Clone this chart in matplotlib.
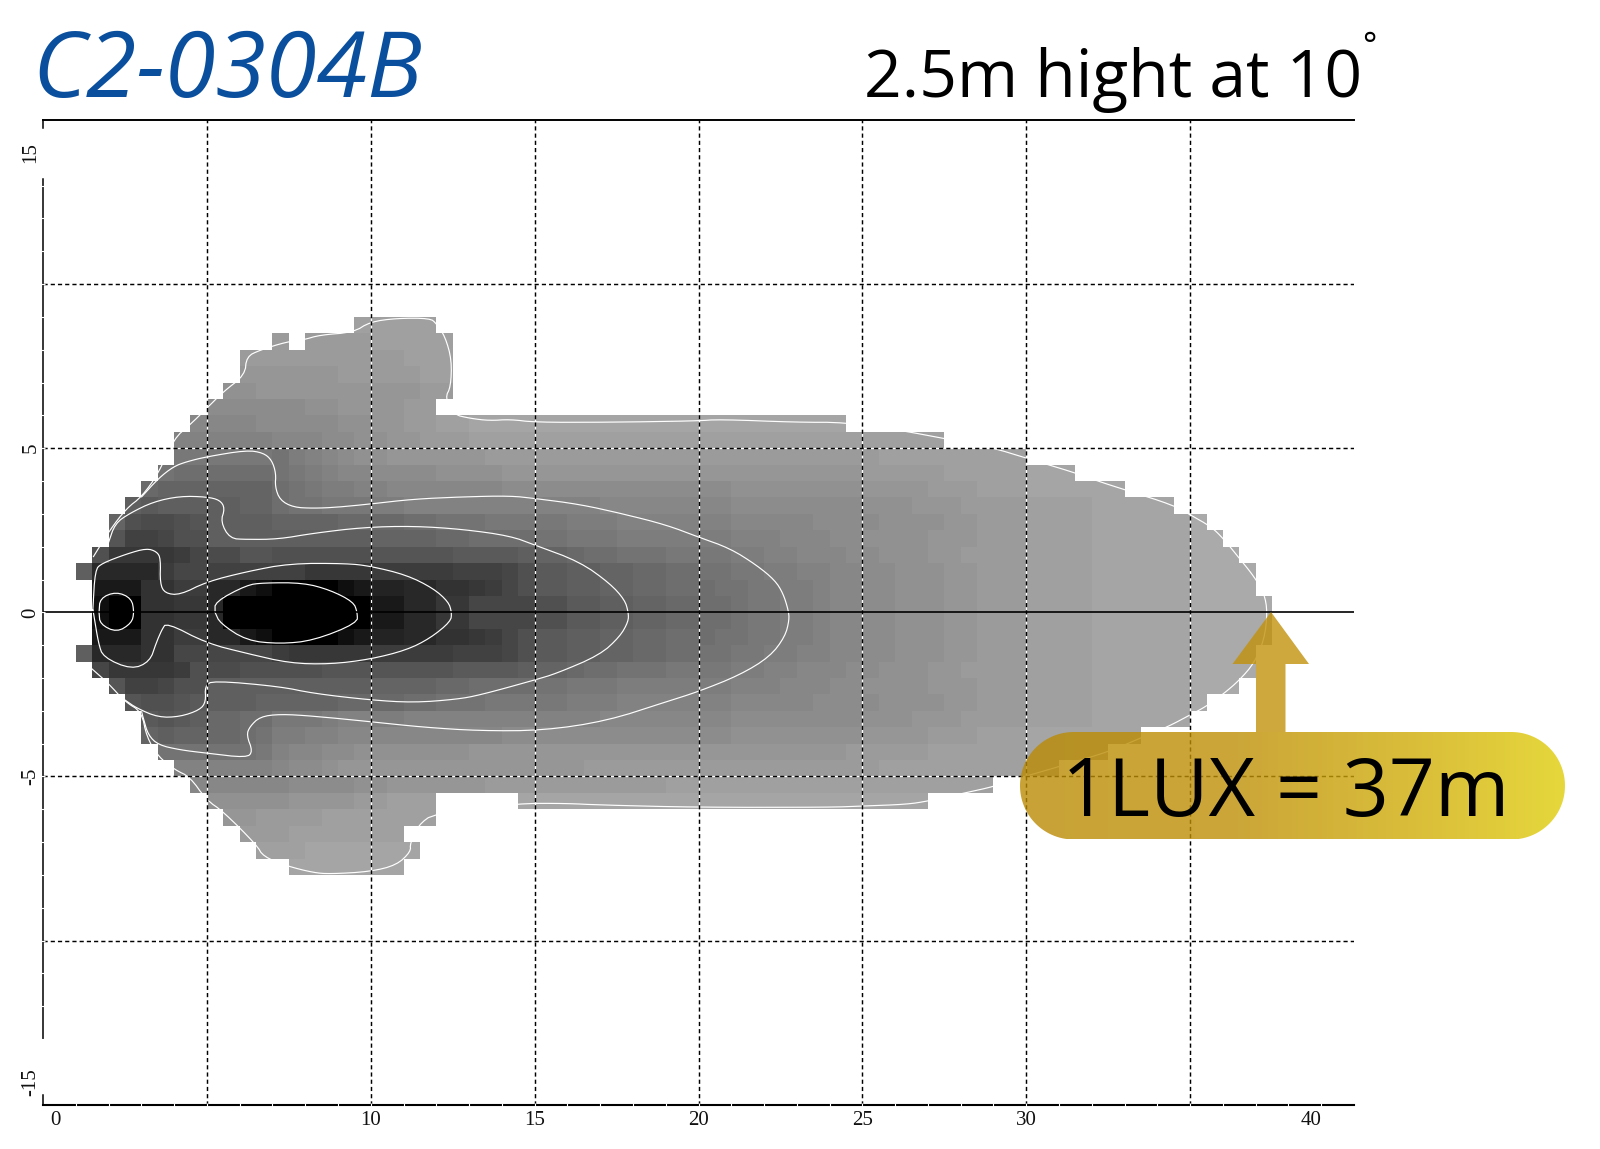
import numpy as np
import matplotlib
matplotlib.use("Agg")
import matplotlib.pyplot as plt
from matplotlib.patches import Polygon
from matplotlib.colors import LinearSegmentedColormap

plt.rcParams['lines.scale_dashes'] = False

# Grey level of every 0.5 m x 0.5 m cell, row by row from y = 9 down to y = -8.
# Columns start at x = 1; spaces only separate the 5 m blocks; '.' = below 1 lux.
GREY_CODES = "0123456789abcdefghijklmnopqrstuvwxyz"
grey_rows = [
    "........ .........w wwww",
    "........ ....v.vvvv wwwww",
    "........ ..vvvvvvvv vvwww",
    "........ ..uuuuuuvv vvvww",
    "........ .ttuuuuuuu uuuvv",
    "........ ssssssttuu uuvv",
    ".......r rrrssssstt uuvvwwxxxx xxxxxxxxxx xxxxxxxxx",
    "......qq qqqqrrrsst tuuvvvwwww wwwwwwwwww wwwwwwwwww wwwww",
    "......oo oooonpqrst tuuuuuuvvv vvvvvvvvvv vvvvvvvvvv vwwwwwwwww",
    ".....nmm mmmmnopqrr ssssttttuu uuuuuuuuuu uuuuuuuuuu vvvvvwwwww xxx",
    "....lkkk kkkkmnoppq qrrrrrrrss ssssssssss sstttttttt uuuuvvvwww xxxxxx",
    "...jijjj jjkkmnnooo ppqqqqqqqq qqqqrrrrrr rrssssssss tttuuuvvvv wwwwxxxxx",
    "..kgffgh jjjjkkkkll llmmnnnooo oopppqqqqq qqrrrrrsss sttttuuvvv wwwwxxxxxx y",
    "..hddegg jjjjjjjjjj kkkkllmmmm nnoooppppp ppqqqrrrss ttttuuuvvv wwwwxxxxxx yy",
    ".gbbbbce ffhhgggggg hhhhhiiiij kklmmnnnoo ooppqqrrrs stttuuvvvv wwwwxxxxxx yyy",
    "j8888cee ddddddbbbb cccccdddeg iijjkkllmm nnooppqqrr sstttuuvvv wwwwxxxxxx yyyy",
    ".555aacc 8853000035 7788aabceg iijjkkllmm mnnooppqrr sstttuuvvv wwwwxxxxxx yyyy",
    ".300aabb 8000000000 5588bbeeee ggiijjkkll mmnooppqrr sstttuuvvv wwwwxxxxxx yyyyy",
    ".300aabb 8000000000 5588bbeeee ggiijjkkll mmnooppqrr sstttuuvvv wwwwxxxxxx yyyyy",
    ".555aacc 8853000035 7788aabceg iijjkkllmm mnnooppqrr sstttuuvvv wwwwxxxxxx yyyyy",
    "j888aaee eeeecbbbbb cccccdddeg iijjkkllmm nnooppqqrr sstttuuvvv wwwwxxxxxx yyyy",
    ".ebbbbcg ffggggghhh hhhhhiiiij kklmmnnnoo ooppqqrrrs stttuuvvvv wwwwxxxxxx yyyy",
    "..hddegg jjjjjjjjjj kkkkllmmmm nnoooppppp ppqqqrrrss ttttuuuvvv wwwwxxxxxx yyy",
    "...hgghi jjjkkkkkll llmmnnnooo oopppqqqqq qqrrrrrsss sttttuuvvv wwwwxxxxxx y",
    "....ihij llmmooopqq ppqqqqqqqq qqqqrrrrrr rrssssssss tttuuuvvvv wwwwxxxxxx",
    "....kjkk llmnppqqrr rrrrrrrrss ssssssssss sstttttttt uuuuvvvwww xxxxxxx",
    ".....nnn nnnoqrrsst ttttttuuuu uuuuuuuuuu uuuuuuuuuv vvvvwwwwww xxxxx",
    "......qq qqqqrsstuu uuuuuuuuuu uuuvvvvvvv vvvvvvvvvv vwwwwwwwww xx",
    ".......r rrrrrsssst tuuuuuuvvv vvvvvvvvww wwwwwwwwww wwwwwwww",
    "........ tttttuuuuv vwww.....x xxxxxxxxxx xxxxxxxxxx xxxx",
    "........ .uuvvvvwww wwww",
    "........ ..vvvwwwww ww",
    "........ ...wwwxxxx xxx",
    "........ .....xxxxx xx",
]

# White iso-lux lines (metres)
outer_x = [1.54, 2.04, 2.55, 3.01, 3.52, 4.00, 4.48, 4.99, 5.50, 6.16, 6.21, 6.62, 7.43, 7.94, 8.45, 9.47, 9.98,
           10.79, 11.81, 12.00, 12.27, 12.47, 12.44, 12.27, 12.52, 13.03, 13.63, 14.25, 15.01, 17.20, 19.94, 20.65,
           22.99, 24.47, 26.14, 27.47, 28.92, 30.03, 31.40, 32.15, 33.02, 34.48, 35.02, 35.64, 36.01, 36.51, 36.95,
           37.26, 37.36, 37.26, 36.95, 36.51, 36.01, 35.48, 34.99, 34.33, 33.46, 32.53, 31.00, 29.91, 29.00, 28.17,
           27.00, 26.35, 25.02, 24.00, 19.94, 17.00, 15.97, 14.48, 11.94, 11.45, 11.20, 11.22, 10.79, 9.98, 8.76,
           8.25, 7.45, 6.72, 6.52, 5.50, 4.99, 4.48, 4.03, 3.52, 3.16, 3.01, 2.50, 1.99, 1.48]
outer_y = [1.70, 2.51, 3.17, 3.52, 4.23, 5.30, 5.71, 6.21, 6.72, 7.23, 7.79, 7.99, 8.24, 8.30, 8.45, 8.53, 8.85,
           8.96, 8.96, 8.80, 8.40, 7.69, 6.87, 6.54, 6.03, 5.91, 5.84, 5.88, 5.79, 5.79, 5.83, 5.88,
           5.79, 5.79, 5.55, 5.30, 5.03, 4.69, 4.28, 4.01, 3.73, 3.27, 2.96, 2.61, 2.25, 1.64, 1.09,
           0.58, 0.00, -0.84, -1.55, -2.06, -2.49, -2.87, -3.13, -3.48, -3.84, -4.24, -4.70, -5.01, -5.31, -5.49,
           -5.75, -5.85, -5.90, -5.94, -5.94, -5.87, -5.82, -5.82, -6.12, -6.48, -7.04, -7.29, -7.70, -7.90, -7.97,
           -7.93, -7.73, -7.44, -7.09, -6.07, -5.72, -5.01, -4.80, -4.40, -3.79, -3.03, -2.72, -2.16, -1.71]

band_b_x = [3.01, 3.52, 3.98, 4.38, 4.99, 6.21, 6.72, 6.98, 7.11, 7.08, 7.23, 7.64, 8.25, 8.96, 9.98, 11.30, 12.82,
            14.25, 15.01, 16.38, 17.70, 19.03, 19.98, 20.96, 21.77, 22.33, 22.58, 22.74, 22.77, 22.64, 22.18, 21.26,
            19.98, 19.03, 17.20, 15.26, 13.33, 11.60, 9.98, 8.25, 7.23, 6.62, 6.31, 6.21, 6.40, 6.21, 4.99, 4.18,
            3.52, 3.21, 3.06, 3.01]
band_b_y = [3.52, 4.08, 4.44, 4.59, 4.74, 4.94, 4.86, 4.64, 4.23, 3.83, 3.42, 3.20, 3.17, 3.20, 3.30, 3.45, 3.52,
            3.55, 3.47, 3.29, 3.00, 2.66, 2.30, 1.95, 1.44, 0.98, 0.58, 0.07, -0.23, -0.74, -1.35, -1.91,
            -2.42, -2.72, -3.31, -3.60, -3.61, -3.50, -3.33, -3.16, -3.10, -3.18, -3.48, -3.74, -4.24, -4.43, -4.29, -4.19,
            -4.04, -3.74, -3.23, -3.03]

band_c_x = [1.99, 2.20, 2.65, 3.37, 4.18, 4.99, 5.40, 5.55, 5.42, 5.70, 6.21, 7.18, 8.25, 9.77, 11.30, 12.82, 14.25,
            15.01, 16.38, 17.30, 17.75, 17.86, 17.86, 17.60, 16.99, 15.67, 15.01, 13.33, 12.62, 11.30, 9.98, 8.25,
            7.23, 5.20, 4.94, 4.97, 4.79, 4.18, 3.52, 2.86, 2.50]
band_c_y = [2.10, 2.71, 3.02, 3.37, 3.54, 3.52, 3.42, 3.17, 2.76, 2.25, 2.22, 2.23, 2.41, 2.59, 2.63, 2.53, 2.33,
            2.05, 1.54, 0.88, 0.38, 0.00, -0.28, -0.74, -1.30, -1.86, -2.06, -2.52, -2.65, -2.75, -2.67, -2.47,
            -2.26, -2.08, -2.24, -2.72, -2.97, -3.18, -3.20, -2.92, -2.67]

band_d_x = [1.52, 1.59, 1.79, 2.55, 3.16, 3.47, 3.59, 3.57, 3.72, 4.18, 4.99, 6.21, 7.53, 9.26, 9.98, 11.09, 11.91,
            12.37, 12.47, 12.44, 11.81, 11.09, 9.98, 8.76, 7.53, 6.21, 4.99, 3.77, 3.62, 3.45, 3.26, 2.70, 1.84, 1.69,
            1.54, 1.52]
band_d_y = [0.07, 1.29, 1.49, 1.78, 1.95, 1.85, 1.64, 0.88, 0.58, 0.53, 0.93, 1.24, 1.49, 1.49, 1.41, 1.14, 0.73,
            0.32, 0.00, -0.28, -0.79, -1.15, -1.43, -1.58, -1.55, -1.25, -0.94, -0.31, -0.54, -0.94, -1.50, -1.74, -1.37, -0.94,
            0.00, 0.07]

core_left_x = [1.71, 1.74, 2.23, 2.70, 2.78, 2.70, 2.25, 1.74, 1.71]
core_left_y = [0.00, 0.43, 0.63, 0.43, 0.00, -0.33, -0.61, -0.36, 0.00]

core_right_x = [5.25, 5.25, 6.21, 6.72, 7.94, 8.76, 9.47, 9.59, 9.59, 8.25, 7.23, 6.21, 5.40, 5.25]
core_right_y = [0.00, 0.32, 0.83, 0.90, 0.90, 0.68, 0.32, 0.00, -0.33, -0.86, -0.96, -0.86, -0.33, 0.00]

grid_x = [5, 10, 15, 20, 25, 30, 35]
grid_y = [10, 5, -5, -10]
x_tick_pos = [0.37, 10, 15, 20, 25, 30, 38.7]
x_tick_labels = ["0", "10", "15", "20", "25", "30", "40"]
y_tick_pos = [14.0, 5, 0, -5, -14.3]
y_tick_labels = ["15", "5", "0", "-5", "-15"]

title_text = "C2-0304B"
subtitle_text = "2.5m hight at 10"
badge_text = "1LUX = 37m"


def rounded(xs, ys, passes=2):
    """Only softens the drawn corners of a read polyline."""
    p = np.column_stack([xs, ys])
    for _ in range(passes):
        q = np.empty((2 * len(p), 2))
        q[0::2] = 0.75 * p + 0.25 * np.roll(p, -1, axis=0)
        q[1::2] = 0.25 * p + 0.75 * np.roll(p, -1, axis=0)
        p = np.vstack([p[0], q[:-2], p[-1]])
    return p[:, 0], p[:, 1]


# ------------------------------------------------------------------
W, H = 1600, 1149
fig = plt.figure(figsize=(W / 100, H / 100), dpi=100, facecolor="white")
L, R, T, B = 43, 1354, 120, 1104.7
ax = fig.add_axes([L / W, 1 - B / H, (R - L) / W, (B - T) / H])
ax.set_xlim(0, 40)
ax.set_ylim(-15, 15)
ax.set_axis_off()

n_cols = 73
n_rows = len(grey_rows)
cells = np.full((n_rows, n_cols), np.nan)
for i, row in enumerate(grey_rows):
    for j, ch in enumerate(row.replace(" ", "")):
        if ch != ".":
            cells[i, j] = GREY_CODES.index(ch) * 5
x_edges = 1 + 0.5 * np.arange(n_cols + 1)
y_edges = 9 - 0.5 * np.arange(n_rows + 1)
ax.pcolormesh(x_edges, y_edges, np.ma.masked_invalid(cells), cmap="gray", vmin=0, vmax=255,
              shading="flat", linewidth=0, antialiased=False, zorder=1)

for xs, ys in [(outer_x, outer_y), (band_b_x, band_b_y), (band_c_x, band_c_y),
               (band_d_x, band_d_y), (core_left_x, core_left_y), (core_right_x, core_right_y)]:
    sx, sy = rounded(xs, ys)
    ax.plot(sx, sy, color="white", lw=0.85, zorder=2, solid_joinstyle="round")

dash = (0, (3.0, 2.2))
for gx in grid_x:
    ax.plot([gx, gx], [-15, 15], color="white", lw=0.9, zorder=3)
    ax.plot([gx, gx], [-15, 15], color="black", lw=1.05, ls=dash, zorder=4)
for gy in grid_y:
    ax.plot([0, 40], [gy, gy], color="white", lw=0.9, zorder=3)
    ax.plot([0, 40], [gy, gy], color="black", lw=1.05, ls=dash, zorder=4)
ax.plot([0, 40], [0, 0], color="black", lw=1.2, zorder=5)
ax.plot([0, 40], [15, 15], color="black", lw=1.4, zorder=5, clip_on=False)

# axes with ruler-like breaks
ax.plot([0, 40], [-15, -15], color="black", lw=1.5, zorder=5, clip_on=False)
ax.plot([0, 0], [15, 14.75], color="black", lw=1.1, zorder=5, clip_on=False)
ax.plot([0, 0], [13.2, -13.0], color="black", lw=1.1, zorder=5, clip_on=False)
ax.plot([0, 0], [-14.7, -15], color="black", lw=1.1, zorder=5, clip_on=False)
ruler = np.arange(1, 40)
ax.plot(ruler, np.full(ruler.size, -15), ls="none", marker="|", ms=3, mew=0.8, color="white",
        zorder=6, clip_on=False)
ruler_y = np.arange(-13, 14)
ax.plot(np.zeros(ruler_y.size), ruler_y, ls="none", marker="_", ms=3, mew=0.8, color="white",
        zorder=6, clip_on=False)

tick_font = dict(family="Liberation Serif", fontsize=15, color="#111111")
for xp, lab in zip(x_tick_pos, x_tick_labels):
    ax.text(xp, -15.47, lab, ha="center", va="center", **tick_font)
for yp, lab in zip(y_tick_pos, y_tick_labels):
    ax.text(-0.37, yp, lab, ha="center", va="center", rotation=90, **tick_font)

# ------------------------------------------------------------------
ov = fig.add_axes([0, 0, 1, 1], zorder=5)
ov.patch.set_visible(False)
ov.set_axis_off()

px0, px1, py0, py1 = 1020, 1565, 732, 839.5
rad = (py1 - py0) / 2
t = np.linspace(-np.pi / 2, np.pi / 2, 60)
stadium = np.vstack([np.column_stack([px1 - rad + rad * np.cos(t), (py0 + py1) / 2 + rad * np.sin(t)]),
                     np.column_stack([px0 + rad - rad * np.cos(t), (py0 + py1) / 2 - rad * np.sin(t)])])
pill = Polygon(stadium, closed=True, transform=ov.transData, facecolor="none", edgecolor="none")
ov.add_patch(pill)
cm = LinearSegmentedColormap.from_list("gold", [(0.0, "#bb8b04"), (0.4, "#bf9006"),
                                                (0.75, "#d2b008"), (1.0, "#e0ce0b")])
grad = ov.imshow(np.linspace(0, 1, 256)[None, :], extent=(px0, px1, py1, py0), cmap=cm,
                 aspect="auto", alpha=0.8, zorder=3)
grad.set_clip_path(pill)
ov.add_patch(Polygon([(1271, 612), (1309, 664), (1285.5, 664), (1285.5, 732), (1256, 732), (1256, 664), (1232.5, 664)],
                     closed=True, facecolor="#c2920b", edgecolor="none", alpha=0.8, zorder=3))
ov.set_xlim(0, W)
ov.set_ylim(H, 0)

ov.text(32, 97, title_text, family="Open Sans", style="italic", fontsize=66, color="#0a4f9e",
        ha="left", va="baseline", zorder=6)
ov.text(864, 97, subtitle_text, family="Open Sans", fontsize=47.5, color="black",
        ha="left", va="baseline", zorder=6)
ov.text(1362, 47, "°", family="Open Sans", fontsize=24, color="black", ha="left", va="center", zorder=6)
ov.text(1062, 816, badge_text, family="Open Sans", fontsize=58, color="black",
        ha="left", va="baseline", zorder=6)

fig.savefig("out.png", dpi=100, facecolor="white")
